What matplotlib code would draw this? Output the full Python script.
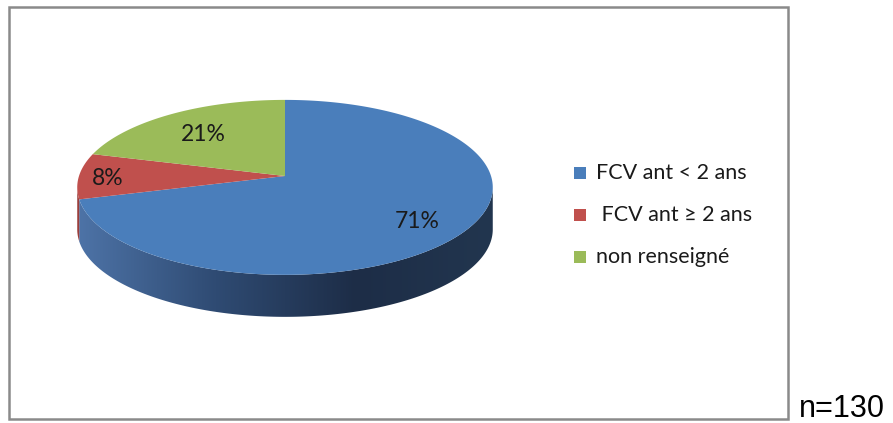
import numpy as np
import matplotlib
matplotlib.use("Agg")
import matplotlib.pyplot as plt
from matplotlib.patches import Polygon, Rectangle
from matplotlib.colors import LinearSegmentedColormap

# data
labels = ["FCV ant < 2 ans", " FCV ant \u2265 2 ans", "non renseign\u00e9"]
counts = [92, 11, 27]
n_total = 130

top_colors = ["#4a7ebb", "#c0504d", "#9bbb59"]
side_colors = ["#3a5f8f", "#9a3e3b", "#7a9445"]

# layout (pixels)
W, H = 893, 423
cx, cy = 285, 176      # apex of the pie
kx, ky = 206, 86       # horizontal / vertical scale of the top face
persp = 0.13           # perspective strength
depth = 42             # thickness of the pie
label_r = [0.76, 0.86, 0.70]

fig = plt.figure(figsize=(W / 100, H / 100), dpi=100)
ax = fig.add_axes([0, 0, 1, 1])


def proj(theta, r=1.0, dz=0.0):
    s = r * np.sin(theta)
    f = 1 + persp * s
    x = cx + kx * r * np.cos(theta) / f
    y = cy - ky * s / f + dz
    return x, y


# slice angles, clockwise from 12 o'clock
fracs = np.array(counts) / n_total
ends = np.pi / 2 - 2 * np.pi * np.cumsum(fracs)
starts = np.concatenate([[np.pi / 2], ends[:-1]])

# visible side range (front)
t_lo = np.pi + np.arcsin(persp)
t_hi = 2 * np.pi - np.arcsin(persp)

side_cmap = LinearSegmentedColormap.from_list(
    "side", ["#4e74a8", "#2f4b73", "#1d2d47", "#22364f"])

for i in range(len(counts)):
    a0, a1 = ends[i], starts[i]
    seg = []
    for shift in (0, 2 * np.pi, -2 * np.pi):
        lo = max(a0 + shift, t_lo)
        hi = min(a1 + shift, t_hi)
        if hi > lo:
            seg.append((lo, hi))
    for lo, hi in seg:
        th = np.linspace(lo, hi, 200)
        xt, yt = proj(th)
        xb, yb = proj(th[::-1], dz=depth)
        pts = np.column_stack([np.concatenate([xt, xb]), np.concatenate([yt, yb])])
        if i == 0:
            poly = Polygon(pts, closed=True, facecolor="none", edgecolor="none")
            ax.add_patch(poly)
            grad = np.linspace(0, 1, 256).reshape(1, -1)
            x0, x1 = cx - kx * 1.02, cx + kx * 1.02
            im = ax.imshow(grad, extent=[x0, x1, cy + 150, cy - 20],
                           aspect="auto", cmap=side_cmap, zorder=1)
            im.set_clip_path(poly)
        else:
            ax.add_patch(Polygon(pts, closed=True, facecolor=side_colors[i],
                                 edgecolor="none", zorder=1))

# top faces
for i in range(len(counts)):
    th = np.linspace(starts[i], ends[i], 300)
    xs, ys = proj(th)
    pts = np.column_stack([np.concatenate([[cx], xs]), np.concatenate([[cy], ys])])
    ax.add_patch(Polygon(pts, closed=True, facecolor=top_colors[i],
                         edgecolor="none", zorder=2))

# percentage labels
for i in range(len(counts)):
    mid = (starts[i] + ends[i]) / 2
    lx, ly = proj(mid, r=label_r[i])
    ax.text(lx, ly + 3, f"{round(100 * counts[i] / n_total)}%", ha="center",
            va="center", fontsize=16.5, color="#1a1a1a",
            family=["Lato", "DejaVu Sans"], zorder=3)

# legend
leg_y = [173, 215, 257]
for i in range(len(labels)):
    ax.add_patch(Rectangle((574, leg_y[i] - 6), 12, 12,
                           facecolor=top_colors[i], edgecolor="none", zorder=3))
    ax.text(596, leg_y[i], labels[i], ha="left", va="center", fontsize=15.5,
            color="#1a1a1a", family=["Lato", "DejaVu Sans"], zorder=3)

# chart frame
ax.add_patch(Rectangle((8.5, 7.5), 779.5, 412, facecolor="none",
                       edgecolor="#8a8a8a", linewidth=1.8, zorder=4))

ax.text(799, 417, "n=130", ha="left", va="baseline", fontsize=22,
        color="#000000", family="Liberation Sans")

ax.set_xlim(0, W)
ax.set_ylim(H, 0)
ax.axis("off")

fig.savefig("out.png", dpi=100)
